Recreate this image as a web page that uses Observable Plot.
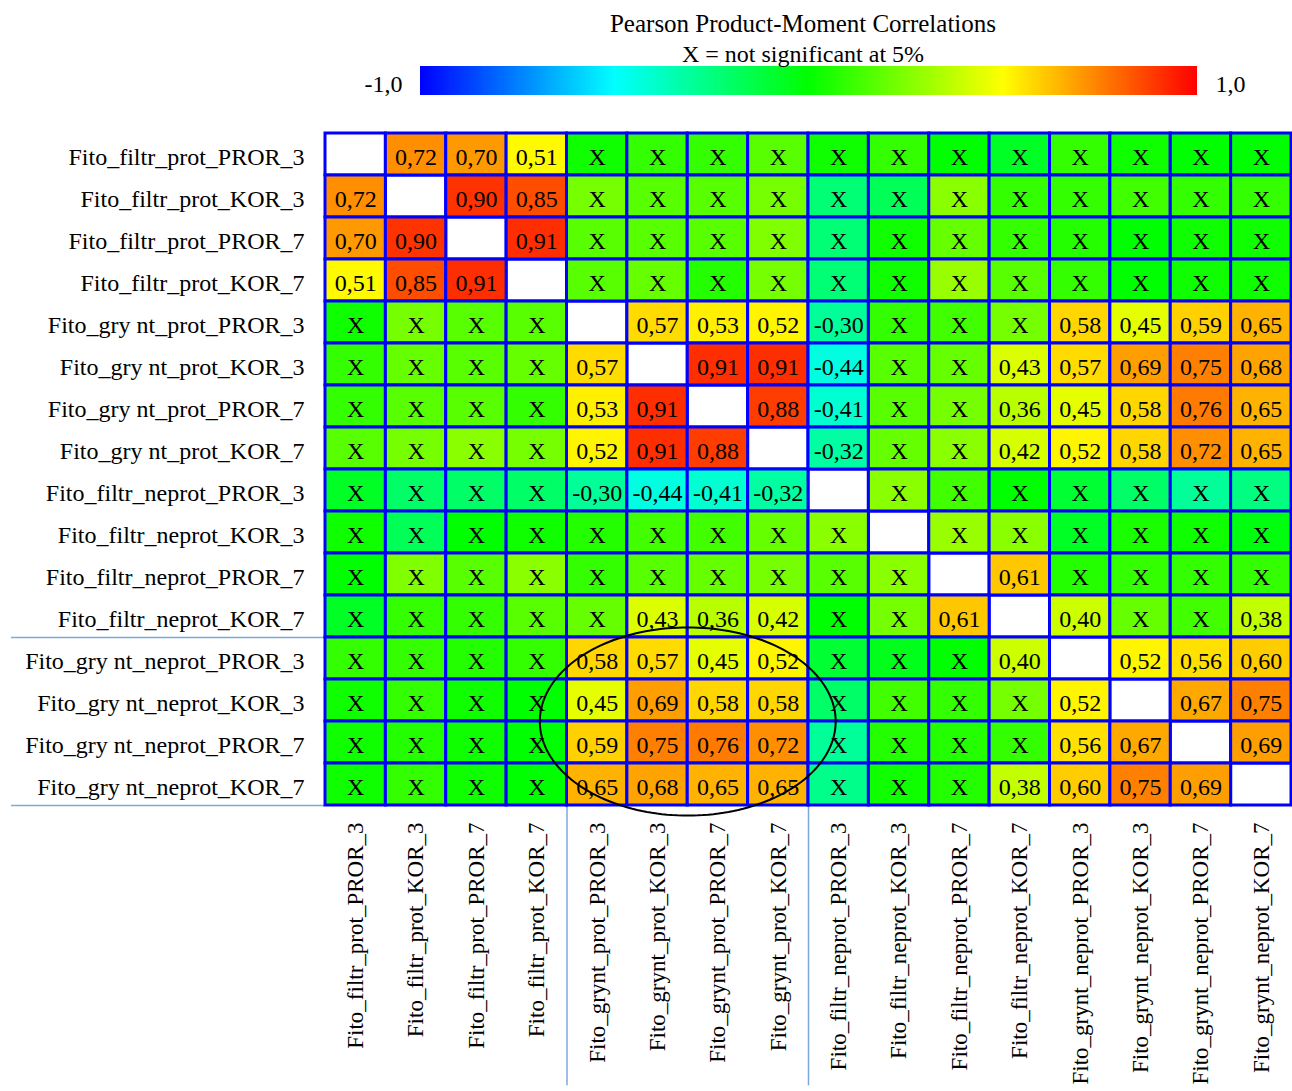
<!DOCTYPE html>
<html>
<head>
<meta charset="utf-8">
<script src="https://cdn.jsdelivr.net/npm/d3@7"></script>
<script src="https://cdn.jsdelivr.net/npm/@observablehq/plot@0.6"></script>
<style>
  html, body { margin: 0; padding: 0; background: #fff; overflow: hidden; }
  #wrap { position: relative; width: 1292px; height: 1091px; overflow: hidden; font-family: "Liberation Serif", "Times New Roman", serif; }
  #main, #bar { position: absolute; left: 0; top: 0; }
  #bar { z-index: 2; }
  .ttl { position: absolute; left: 403px; width: 800px; text-align: center; line-height: 24px; color: #000; z-index: 3; white-space: nowrap; }
</style>
</head>
<body>
<div id="wrap">
  <div id="main"></div>
  <div id="bar"></div>
  <div class="ttl" id="t1" style="top:12px;font-size:25px">Pearson Product-Moment Correlations</div>
  <div class="ttl" id="t2" style="top:42px;font-size:24px">X = not significant at 5%</div>
</div>
<script>
// ---------- data ----------
const colLabels = [
  "Fito_filtr_prot_PROR_3", "Fito_filtr_prot_KOR_3", "Fito_filtr_prot_PROR_7", "Fito_filtr_prot_KOR_7",
  "Fito_grynt_prot_PROR_3", "Fito_grynt_prot_KOR_3", "Fito_grynt_prot_PROR_7", "Fito_grynt_prot_KOR_7",
  "Fito_filtr_neprot_PROR_3", "Fito_filtr_neprot_KOR_3", "Fito_filtr_neprot_PROR_7", "Fito_filtr_neprot_KOR_7",
  "Fito_grynt_neprot_PROR_3", "Fito_grynt_neprot_KOR_3", "Fito_grynt_neprot_PROR_7", "Fito_grynt_neprot_KOR_7"
];
const rowLabels = [
  "Fito_filtr_prot_PROR_3", "Fito_filtr_prot_KOR_3", "Fito_filtr_prot_PROR_7", "Fito_filtr_prot_KOR_7",
  "Fito_gry nt_prot_PROR_3", "Fito_gry nt_prot_KOR_3", "Fito_gry nt_prot_PROR_7", "Fito_gry nt_prot_KOR_7",
  "Fito_filtr_neprot_PROR_3", "Fito_filtr_neprot_KOR_3", "Fito_filtr_neprot_PROR_7", "Fito_filtr_neprot_KOR_7",
  "Fito_gry nt_neprot_PROR_3", "Fito_gry nt_neprot_KOR_3", "Fito_gry nt_neprot_PROR_7", "Fito_gry nt_neprot_KOR_7"
];
// correlation values (values of non-significant cells estimated from their colour)
const r = [
  [null, 0.72, 0.70, 0.51, 0.03, 0.10, 0.10, 0.17, 0.03, 0.10, 0.00, -0.07, 0.10, 0.03, 0.00, 0.00],
  [0.72, null, 0.90, 0.85, 0.23, 0.17, 0.17, 0.23, -0.23, -0.17, 0.27, 0.10, 0.10, 0.13, 0.10, 0.10],
  [0.70, 0.90, null, 0.91, 0.17, 0.17, 0.17, 0.25, -0.23, 0.03, 0.20, 0.10, 0.07, 0.00, 0.03, 0.03],
  [0.51, 0.85, 0.91, null, 0.17, 0.20, 0.07, 0.23, -0.23, 0.03, 0.30, 0.17, 0.10, 0.00, 0.03, 0.03],
  [0.03, 0.23, 0.17, 0.17, null, 0.57, 0.53, 0.52, -0.30, 0.10, 0.13, 0.23, 0.58, 0.45, 0.59, 0.65],
  [0.10, 0.20, 0.17, 0.20, 0.57, null, 0.91, 0.91, -0.44, 0.17, 0.20, 0.43, 0.57, 0.69, 0.75, 0.68],
  [0.10, 0.17, 0.17, 0.10, 0.53, 0.91, null, 0.88, -0.41, 0.17, 0.23, 0.36, 0.45, 0.58, 0.76, 0.65],
  [0.17, 0.23, 0.27, 0.23, 0.52, 0.91, 0.88, null, -0.32, 0.20, 0.27, 0.42, 0.52, 0.58, 0.72, 0.65],
  [-0.07, -0.20, -0.20, -0.20, -0.30, -0.44, -0.41, -0.32, null, 0.27, 0.13, 0.00, -0.10, -0.20, -0.30, -0.25],
  [0.03, -0.17, 0.00, 0.03, 0.07, 0.13, 0.13, 0.20, 0.27, null, 0.30, 0.27, -0.07, 0.05, 0.03, -0.03],
  [0.00, 0.25, 0.17, 0.27, 0.10, 0.17, 0.20, 0.23, 0.17, 0.27, null, 0.61, 0.07, 0.10, 0.10, 0.10],
  [-0.07, 0.10, 0.10, 0.17, 0.20, 0.43, 0.36, 0.42, 0.00, 0.23, 0.61, null, 0.40, 0.20, 0.13, 0.38],
  [0.10, 0.10, 0.07, 0.10, 0.58, 0.57, 0.45, 0.52, -0.10, -0.05, 0.00, 0.40, null, 0.52, 0.56, 0.60],
  [0.03, 0.10, 0.03, 0.00, 0.45, 0.69, 0.58, 0.58, -0.20, 0.13, 0.10, 0.23, 0.52, null, 0.67, 0.75],
  [0.03, 0.07, 0.03, 0.00, 0.59, 0.75, 0.76, 0.72, -0.30, 0.07, 0.07, 0.10, 0.56, 0.67, null, 0.69],
  [0.03, 0.10, 0.03, 0.00, 0.65, 0.68, 0.65, 0.65, -0.27, 0.03, 0.07, 0.38, 0.60, 0.75, 0.69, null]
];
// 1 = significant at 5% (value printed), 0 = "X"
const sig = [
  [0,1,1,1,0,0,0,0,0,0,0,0,0,0,0,0],
  [1,0,1,1,0,0,0,0,0,0,0,0,0,0,0,0],
  [1,1,0,1,0,0,0,0,0,0,0,0,0,0,0,0],
  [1,1,1,0,0,0,0,0,0,0,0,0,0,0,0,0],
  [0,0,0,0,0,1,1,1,1,0,0,0,1,1,1,1],
  [0,0,0,0,1,0,1,1,1,0,0,1,1,1,1,1],
  [0,0,0,0,1,1,0,1,1,0,0,1,1,1,1,1],
  [0,0,0,0,1,1,1,0,1,0,0,1,1,1,1,1],
  [0,0,0,0,1,1,1,1,0,0,0,0,0,0,0,0],
  [0,0,0,0,0,0,0,0,0,0,0,0,0,0,0,0],
  [0,0,0,0,0,0,0,0,0,0,0,1,0,0,0,0],
  [0,0,0,0,0,1,1,1,0,0,1,0,1,0,0,1],
  [0,0,0,0,1,1,1,1,0,0,0,1,0,1,1,1],
  [0,0,0,0,1,1,1,1,0,0,0,0,1,0,1,1],
  [0,0,0,0,1,1,1,1,0,0,0,0,1,1,0,1],
  [0,0,0,0,1,1,1,1,0,0,0,1,1,1,1,0]
];
const scaleTicks = ["-1,0", "1,0"];
const colorStops = [-1, -0.5, 0, 0.5, 1];
const colorRange = ["#0000ff", "#00ffff", "#00ff00", "#ffff00", "#ff0000"];
// annotation ellipse (in cell units) and group divider lines
const ellipse = {cx: 6, cy: 14, rx: 2.45, ry: 2.24};
const hDividers = [12, 16];
const vDividers = [4, 8];

// ---------- build ----------
const FONT = "Liberation Serif";
const n = colLabels.length;
const cells = [];
for (let i = 0; i < n; i++) for (let j = 0; j < n; j++) cells.push({i, j, v: r[i][j], s: sig[i][j]});
const fmt = v => v.toFixed(2).replace(".", ",");
const colorOpts = {type: "linear", domain: colorStops, range: colorRange, interpolate: "rgb"};
const ellPts = d3.range(0, 361, 2).map(a => {
  const t = a * Math.PI / 180;
  return {x: ellipse.cx + ellipse.rx * Math.cos(t), y: ellipse.cy + ellipse.ry * Math.sin(t)};
});
const divColor = "#7ea8dc";

const main = Plot.plot({
  width: 1292, height: 1091,
  marginTop: 133, marginBottom: 286, marginLeft: 325, marginRight: 1,
  style: {fontFamily: FONT, background: "white", overflow: "visible"},
  x: {domain: [0, n], axis: null},
  y: {domain: [0, n], reverse: true, axis: null},
  color: colorOpts,
  marks: [
    Plot.ruleY(hDividers, {y: d => d, x1: () => -5.2, x2: () => 0, stroke: divColor, strokeWidth: 1.5}),
    Plot.ruleX(vDividers, {x: d => d, y1: () => 16, y2: () => 22.67, stroke: divColor, strokeWidth: 1.5}),
    Plot.rect(cells.filter(d => d.v == null), {x1: d => d.j, x2: d => d.j + 1, y1: d => d.i, y2: d => d.i + 1, fill: "white", stroke: "#0000ff", strokeWidth: 3}),
    Plot.rect(cells.filter(d => d.v != null), {x1: d => d.j, x2: d => d.j + 1, y1: d => d.i, y2: d => d.i + 1, fill: d => d.v, stroke: "#0000ff", strokeWidth: 3}),
    Plot.text(cells.filter(d => d.v != null), {x: d => d.j + 0.5, y: d => d.i + 0.5, text: d => d.s ? fmt(d.v) : "X", dy: 3, fontSize: 24, fontFamily: FONT, fill: "black"}),
    Plot.text(rowLabels, {x: () => 0, y: (d, i) => i + 0.5, text: d => d, textAnchor: "end", dx: -21, dy: 3, fontSize: 24, fontFamily: FONT, fill: "black"}),
    Plot.text(colLabels, {x: (d, i) => i + 0.5, y: () => n, text: d => d, rotate: -90, textAnchor: "end", dy: 17, fontSize: 23, fontFamily: FONT, fill: "black"}),
    Plot.line(ellPts, {x: "x", y: "y", stroke: "black", strokeWidth: 2})
  ]
});
document.getElementById("main").appendChild(main);

const steps = d3.range(-1, 1, 0.005);
const bar = Plot.plot({
  width: 1292, height: 100,
  marginTop: 66, marginBottom: 5, marginLeft: 420, marginRight: 95,
  style: {fontFamily: FONT, background: "transparent", overflow: "visible"},
  x: {domain: [-1, 1], axis: null},
  y: {domain: [0, 1], axis: null},
  color: colorOpts,
  marks: [
    Plot.rect(steps, {x1: d => d, x2: d => Math.min(1, d + 0.007), y1: () => 0, y2: () => 1, fill: d => d + 0.0025}),
    Plot.text([scaleTicks[0]], {x: () => -1, y: () => 0.5, text: d => d, textAnchor: "end", dx: -18, dy: 3, fontSize: 24, fontFamily: FONT, fill: "black"}),
    Plot.text([scaleTicks[1]], {x: () => 1, y: () => 0.5, text: d => d, textAnchor: "start", dx: 18, dy: 3, fontSize: 24, fontFamily: FONT, fill: "black"})
  ]
});
document.getElementById("bar").appendChild(bar);
</script>
</body>
</html>
